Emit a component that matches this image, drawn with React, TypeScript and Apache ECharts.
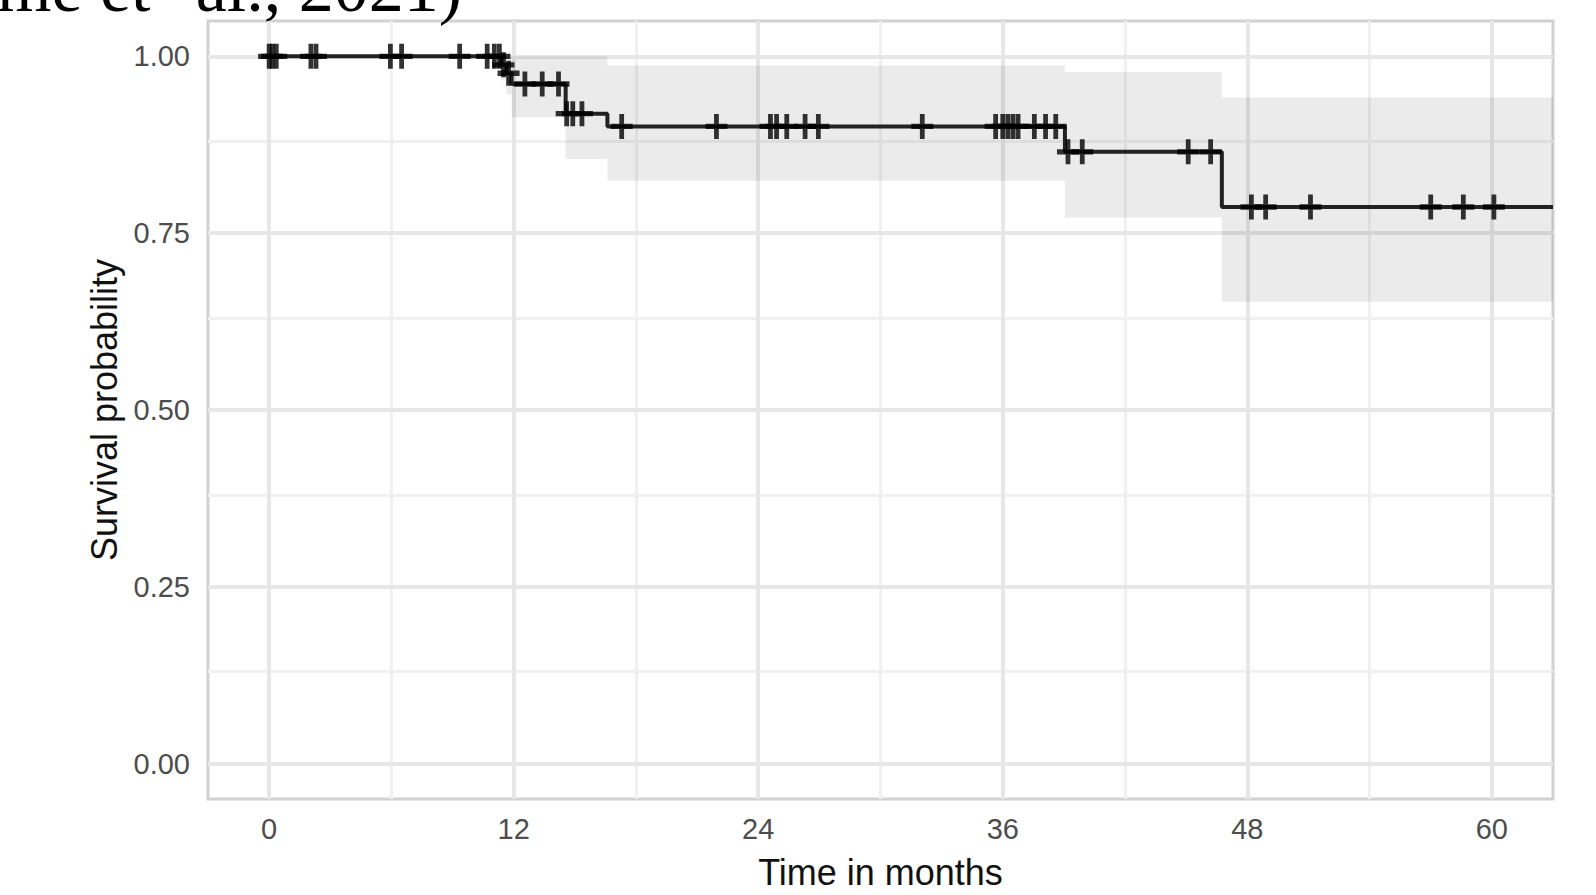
import React, { useEffect, useRef } from 'react';
import * as echarts from 'echarts';

// Kaplan-Meier step function (time in months, survival probability)
const eventTimes = [0, 11.4, 11.65, 11.9, 14.55, 16.6, 39.05, 46.75, 63];
const survival = [1, 0.988, 0.976, 0.961, 0.919, 0.901, 0.865, 0.787, 0.787];
const upperCI = [1, 1, 1, 1, 1, 0.987, 0.978, 0.942, 0.942];
const lowerCI = [1, 0.966, 0.946, 0.914, 0.855, 0.824, 0.772, 0.653, 0.653];

// censored observations (months)
const censorTimes = [
  0, 0.15, 0.35, 2.05, 2.3, 5.95, 6.5, 9.35, 10.7, 11.05, 11.3,
  11.5, 11.75,
  12.55, 13.4, 14.2,
  14.6, 14.9, 15.35,
  17.3, 21.95, 24.6, 24.9, 25.4, 26.3, 26.95, 32.05,
  35.65, 36.0, 36.25, 36.5, 36.75, 37.55, 38.1, 38.6,
  39.2, 39.9, 45.1, 46.2,
  48.2, 48.9, 51.1, 57.0, 58.6, 60.1,
];

const xTicks = [0, 12, 24, 36, 48, 60];
const xMinorGrid = [6, 18, 30, 42, 54];
const yTicks = [0, 0.25, 0.5, 0.75, 1];
const yMinorGrid = [0.125, 0.375, 0.625, 0.875];

const xTitle = 'Time in months';
const yTitle = 'Survival probability';
const headLeft = 'me et';
const headRight = 'al., 2021)';

function survivalAt(t: number): number {
  let v = survival[0];
  for (let i = 0; i < eventTimes.length; i++) {
    if (eventTimes[i] <= t) v = survival[i];
  }
  return v;
}

const SANS = '"Liberation Sans", Arial, sans-serif';

export default function App() {
  const ref = useRef<HTMLDivElement>(null);

  useEffect(() => {
    if (!ref.current) return;
    const chart = echarts.init(ref.current, null, { renderer: 'svg' });

    const majorStyle = { color: '#e7e7e7', width: 4, type: 'solid' };
    const minorStyle = { color: '#f0f0f0', width: 3, type: 'solid' };

    const option: any = {
      animation: false,
      backgroundColor: '#ffffff',
      grid: {
        left: 208,
        top: 21,
        width: 1345,
        height: 778,
        show: true,
        borderColor: '#d2d2d2',
        borderWidth: 3,
        backgroundColor: 'transparent',
      },
      xAxis: {
        type: 'value',
        min: -3,
        max: 63,
        splitLine: { show: false },
        axisLine: { show: false },
        axisTick: {
          show: true,
          customValues: xTicks,
          length: 8,
          lineStyle: { color: '#4d4d4d', width: 2 },
        },
        axisLabel: {
          customValues: xTicks,
          margin: 15,
          color: '#4d4d4d',
          fontSize: 29,
          fontFamily: SANS,
        },
        name: xTitle,
        nameLocation: 'middle',
        nameGap: 73,
        nameTextStyle: {
          fontSize: 36,
          color: '#111',
          fontFamily: SANS,
          verticalAlign: 'middle',
        },
      },
      yAxis: {
        type: 'value',
        min: -0.05,
        max: 1.05,
        splitLine: { show: false },
        axisLine: { show: false },
        axisTick: {
          show: true,
          customValues: yTicks,
          length: 9,
          lineStyle: { color: '#4d4d4d', width: 2 },
        },
        axisLabel: {
          customValues: yTicks,
          margin: 18,
          color: '#4d4d4d',
          fontSize: 29,
          fontFamily: SANS,
          formatter: (v: number) => v.toFixed(2),
        },
        name: yTitle,
        nameLocation: 'middle',
        nameGap: 102,
        nameRotate: 90,
        nameTextStyle: {
          fontSize: 36,
          color: '#111',
          fontFamily: SANS,
          verticalAlign: 'middle',
        },
      },
      series: [
        {
          type: 'line',
          z: 1,
          data: [],
          silent: true,
          markLine: {
            z: 1,
            silent: true,
            symbol: ['none', 'none'],
            label: { show: false },
            emphasis: { disabled: true },
            lineStyle: { type: 'solid' },
            data: [
              ...xMinorGrid.map((v) => ({ xAxis: v, lineStyle: minorStyle })),
              ...yMinorGrid.map((v) => ({ yAxis: v, lineStyle: minorStyle })),
              ...xTicks.map((v) => ({ xAxis: v, lineStyle: majorStyle })),
              ...yTicks.map((v) => ({ yAxis: v, lineStyle: majorStyle })),
            ],
          },
        },
        {
          type: 'custom',
          z: 2,
          silent: true,
          data: [[0, 1]],
          renderItem: (_params: any, api: any) => {
            const pts: number[][] = [];
            for (let i = 0; i < eventTimes.length - 1; i++) {
              pts.push(api.coord([eventTimes[i], upperCI[i]]));
              pts.push(api.coord([eventTimes[i + 1], upperCI[i]]));
            }
            for (let i = eventTimes.length - 2; i >= 0; i--) {
              pts.push(api.coord([eventTimes[i + 1], lowerCI[i]]));
              pts.push(api.coord([eventTimes[i], lowerCI[i]]));
            }
            return {
              type: 'polygon',
              shape: { points: pts },
              style: { fill: 'rgba(0,0,0,0.078)' },
            };
          },
        },
        {
          type: 'line',
          z: 3,
          step: 'end',
          symbol: 'none',
          silent: true,
          data: eventTimes.map((t, i) => [t, survival[i]]),
          lineStyle: { color: '#222', width: 4 },
        },
        {
          type: 'scatter',
          z: 4,
          silent: true,
          symbol: 'path://M9,0h5v9h9v5h-9v9h-5v-9h-9v-5h9z',
          symbolSize: [22, 25],
          itemStyle: { color: '#000' },
          data: censorTimes.map((t) => [t, survivalAt(t)]),
        },
      ],
      graphic: [
        {
          type: 'text',
          silent: true,
          style: {
            text: headLeft,
            x: -3,
            y: -13,
            font: '70px "Liberation Serif", "Times New Roman", serif',
            fill: '#000',
            align: 'left',
            textAlign: 'left',
            verticalAlign: 'middle',
            textVerticalAlign: 'middle',
          },
        },
        {
          type: 'text',
          silent: true,
          style: {
            text: headRight,
            x: 462,
            y: -13,
            font: '70px "Liberation Serif", "Times New Roman", serif',
            fill: '#000',
            align: 'right',
            textAlign: 'right',
            verticalAlign: 'middle',
            textVerticalAlign: 'middle',
          },
        },
      ],
    };

    chart.setOption(option);
    return () => {
      chart.dispose();
    };
  }, []);

  return (
    <div
      ref={ref}
      style={{ position: 'fixed', left: 0, top: 0, width: 1596, height: 895, background: '#fff' }}
    />
  );
}
